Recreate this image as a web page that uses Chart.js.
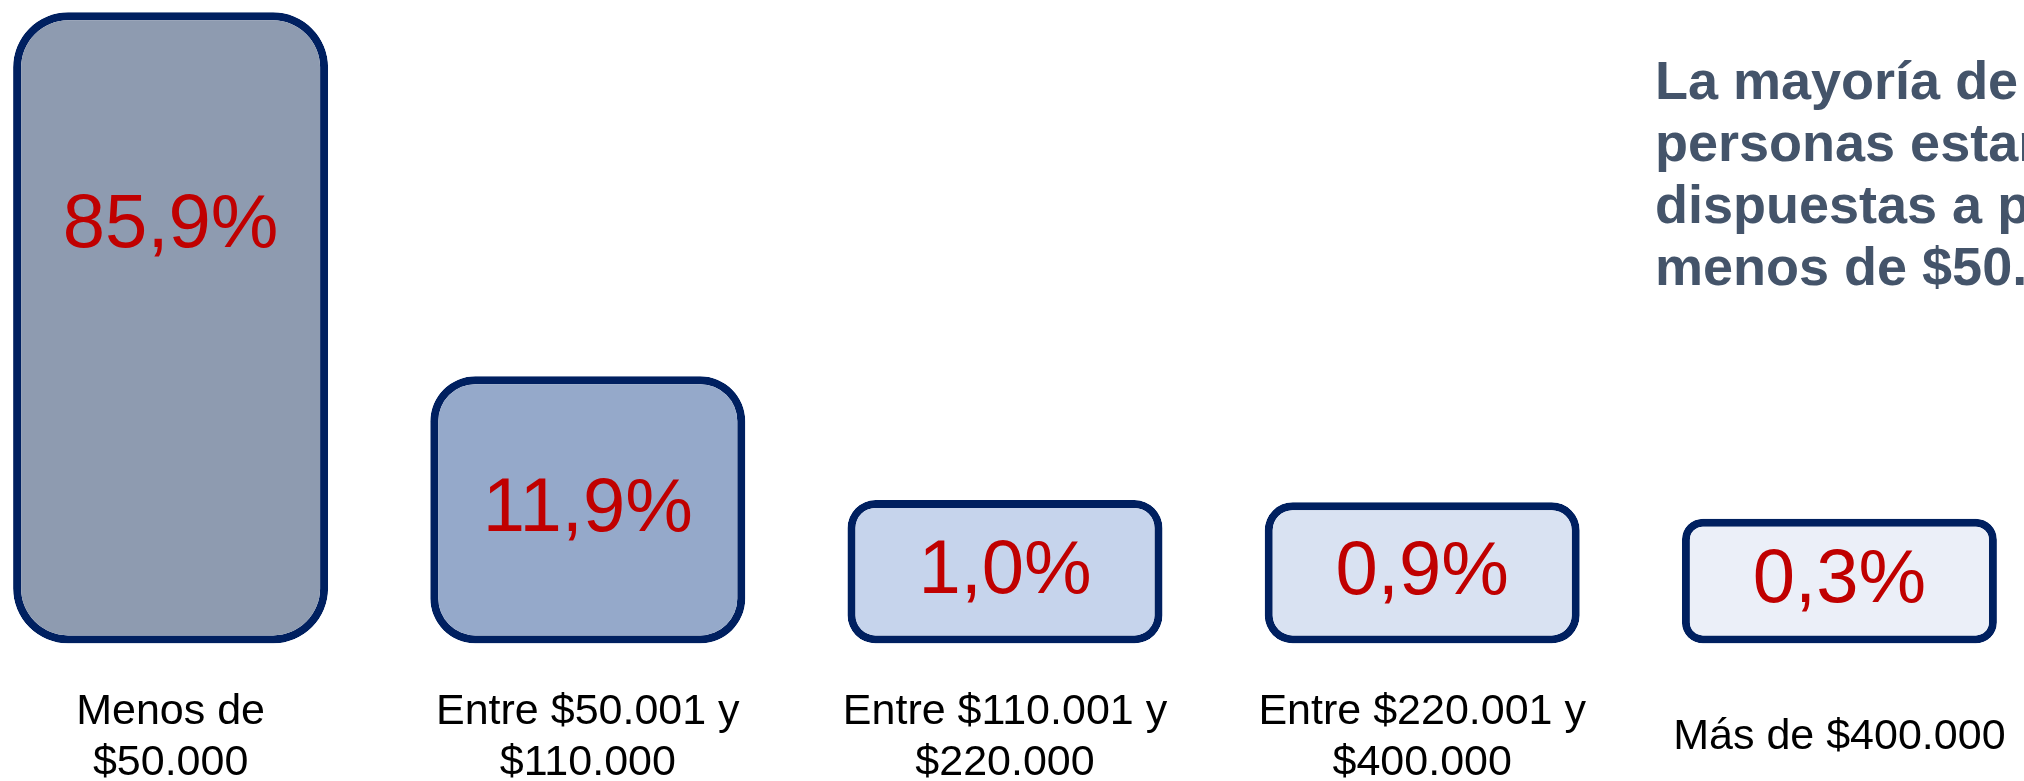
<!DOCTYPE html>
<html>
<head>
<meta charset="utf-8">
<script src="https://cdn.jsdelivr.net/npm/chart.js@4/dist/chart.umd.min.js"></script>
<style>
  html, body { margin: 0; padding: 0; background: #fff; overflow: hidden; width: 2024px; height: 781px; }
  #clip { position: relative; width: 2024px; height: 781px; overflow: hidden; }
  #myChart { position: absolute; left: -38px; top: 0; }
  #note {
    position: absolute; left: 1655px; top: 49px;
    font: bold 54px/62px "Liberation Sans", Arial, sans-serif;
    color: #44546A; white-space: nowrap;
  }
</style>
</head>
<body>
<div id="clip">
  <canvas id="myChart" width="2086" height="868"></canvas>
  <div id="note">La mayoría de las<br>personas estarían<br>dispuestas a pagar<br>menos de $50.000</div>
</div>
<script>
// categories (multi-line tick labels)
const categories = [
  ['Menos de', '$50.000'],
  ['Entre $50.001 y', '$110.000'],
  ['Entre $110.001 y', '$220.000'],
  ['Entre $220.001 y', '$400.000'],
  'Más de $400.000'
]
// share of people (%)
const shares = [85.9, 11.9, 1.0, 0.9, 0.3]

const fills = ['#8E9BB0', '#95A9CA', '#C6D4EC', '#D9E2F2', '#EBEFF8']
const radii = [55, 45, 28, 28, 21]

// the boxes in the original are not linear in the value,
// so use a power scale (v^0.6) with the bar base below zero
const EXP = 0.6
const pw = v => Math.sign(v) * Math.pow(Math.abs(v), EXP)

class PowScale extends Chart.LinearScale {
  getPixelForValue(value) {
    return this.getPixelForDecimal((pw(value) - pw(this.min)) / (pw(this.max) - pw(this.min)))
  }
  getValueForPixel(pixel) {
    const d = this.getDecimalForPixel(pixel)
    const t = pw(this.min) + d * (pw(this.max) - pw(this.min))
    return Math.sign(t) * Math.pow(Math.abs(t), 1 / EXP)
  }
}
PowScale.id = 'pow'
Chart.register(PowScale)

const BASE = -6.1

const pctLabels = {
  id: 'pctLabels',
  afterDatasetsDraw(chart) {
    const ctx = chart.ctx
    const meta = chart.getDatasetMeta(0)
    ctx.save()
    ctx.font = '76px "Liberation Sans", Arial, sans-serif'
    ctx.fillStyle = '#C00000'
    ctx.textAlign = 'center'
    ctx.textBaseline = 'middle'
    meta.data.forEach((bar, i) => {
      const mid = (bar.y + bar.base) / 2
      const y = Math.min(mid, bar.y + 214)
      ctx.fillText(shares[i].toFixed(1).replace('.', ',') + '%', bar.x, y)
    })
    ctx.restore()
  }
}

const ctx = document.getElementById('myChart')

new Chart(ctx, {
  type: 'bar',
  data: {
    labels: categories,
    datasets: [{
      data: shares,
      base: BASE,
      backgroundColor: fills,
      borderColor: '#002060',
      borderWidth: 8,
      borderRadius: radii,
      borderSkipped: false,
      barPercentage: 0.755,
      categoryPercentage: 1
    }]
  },
  options: {
    responsive: false,
    animation: false,
    layout: { padding: { top: 12, bottom: 16, left: 0, right: 0 } },
    plugins: {
      legend: { display: false },
      tooltip: { enabled: false }
    },
    scales: {
      x: {
        // hidden tick marks only used to push the labels down
        grid: { display: false, drawTicks: true, tickLength: 30, tickColor: 'rgba(0,0,0,0)' },
        border: { display: false },
        ticks: {
          color: '#000',
          padding: 39,
          maxRotation: 0,
          autoSkip: false,
          crossAlign: 'center',
          font: { family: '"Liberation Sans", Arial, sans-serif', size: 43, lineHeight: 1.17 }
        }
      },
      y: {
        type: 'pow',
        min: BASE,
        max: 86,
        display: false
      }
    }
  },
  plugins: [pctLabels]
})
</script>
</body>
</html>
